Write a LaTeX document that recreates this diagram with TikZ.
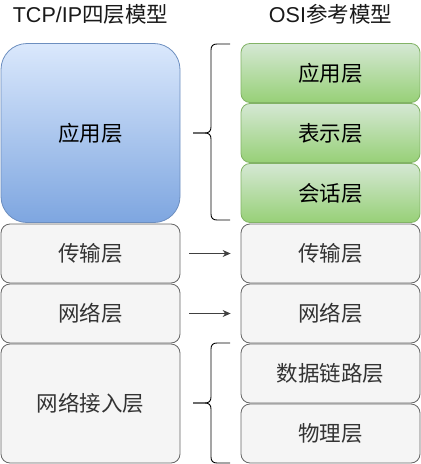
\documentclass[tikz,border=0pt]{standalone}
\usepackage{fontspec}
\setmainfont{Liberation Sans}
\newfontfamily\cjk{Noto Sans CJK SC}
\usetikzlibrary{arrows.meta}
\definecolor{bluetop}{HTML}{DAE8FC}
\definecolor{bluebot}{HTML}{7EA6E0}
\definecolor{bluestroke}{HTML}{6C8EBF}
\definecolor{greentop}{HTML}{D5E8D4}
\definecolor{greenbot}{HTML}{97D077}
\definecolor{greenstroke}{HTML}{82B366}
\definecolor{grayfill}{HTML}{F5F5F5}
\definecolor{graystroke}{HTML}{666666}
\definecolor{graytext}{HTML}{333333}
\begin{document}
\begin{tikzpicture}[x=1pt,y=-1pt,
  base/.style={rectangle, minimum width=179pt, inner sep=0pt, line width=0.8pt,
    font=\fontsize{21.5}{24}\selectfont\cjk},
  bluebox/.style={base, rounded corners=26pt, top color=bluetop, bottom color=bluebot, draw=bluestroke, text=black},
  greenbox/.style={base, rounded corners=9pt, top color=greentop, bottom color=greenbot, draw=greenstroke, minimum height=59pt, text=black},
  graybox/.style={base, rounded corners=9pt, fill=grayfill, draw=graystroke, text=graytext},
  title/.style={font=\fontsize{21.5}{24}\selectfont, text=black!90},
  arr/.style={-{Stealth[length=8pt,width=7pt]}, line width=0.8pt, draw=black!75},
  brace/.style={line width=0.9pt, draw=black}
]
\useasboundingbox (0,0) rectangle (421,464);
% titles
\node[title] (t1) at (90.5,14) {TCP/IP{\cjk 四层模型}};
\node[title] (t2) at (330.5,14) {OSI{\cjk 参考模型}};
% left column
\node[bluebox, minimum height=179pt] (app) at (90.5,133) {应用层};
\node[graybox, minimum height=59pt] (trans) at (90.5,253.5) {传输层};
\node[graybox, minimum height=59pt] (net) at (90.5,313.5) {网络层};
\node[graybox, minimum height=119pt] (acc) at (90.5,403.5) {网络接入层};
% right column
\node[greenbox] (o7) at (330.5,73) {应用层};
\node[greenbox] (o6) at (330.5,133) {表示层};
\node[greenbox] (o5) at (330.5,193) {会话层};
\node[graybox, minimum height=59pt] (o4) at (330.5,253.5) {传输层};
\node[graybox, minimum height=59pt] (o3) at (330.5,313.5) {网络层};
\node[graybox, minimum height=59pt] (o2) at (330.5,373.5) {数据链路层};
\node[graybox, minimum height=59pt] (o1) at (330.5,433.5) {物理层};
% arrows
\draw[arr] ([xshift=9pt]trans.east) -- ([xshift=-10pt]o4.west);
\draw[arr] ([xshift=9pt]net.east) -- ([xshift=-10pt]o3.west);
% braces
\draw[brace] (230,44) -- (217,44) .. controls (213,44) and (211,46) .. (211,50)
  -- (211,127) .. controls (211,131) and (209,133) .. (205,133) -- (193,133);
\draw[brace] (193,133) -- (205,133) .. controls (209,133) and (211,135) .. (211,139)
  -- (211,214) .. controls (211,218) and (213,220) .. (217,220) -- (230,220);
\draw[brace] (230,343) -- (217,343) .. controls (213,343) and (211,345) .. (211,349)
  -- (211,397) .. controls (211,401) and (209,403) .. (205,403) -- (193,403);
\draw[brace] (193,403) -- (205,403) .. controls (209,403) and (211,405) .. (211,409)
  -- (211,457) .. controls (211,461) and (213,463) .. (217,463) -- (230,463);
\end{tikzpicture}
\end{document}
